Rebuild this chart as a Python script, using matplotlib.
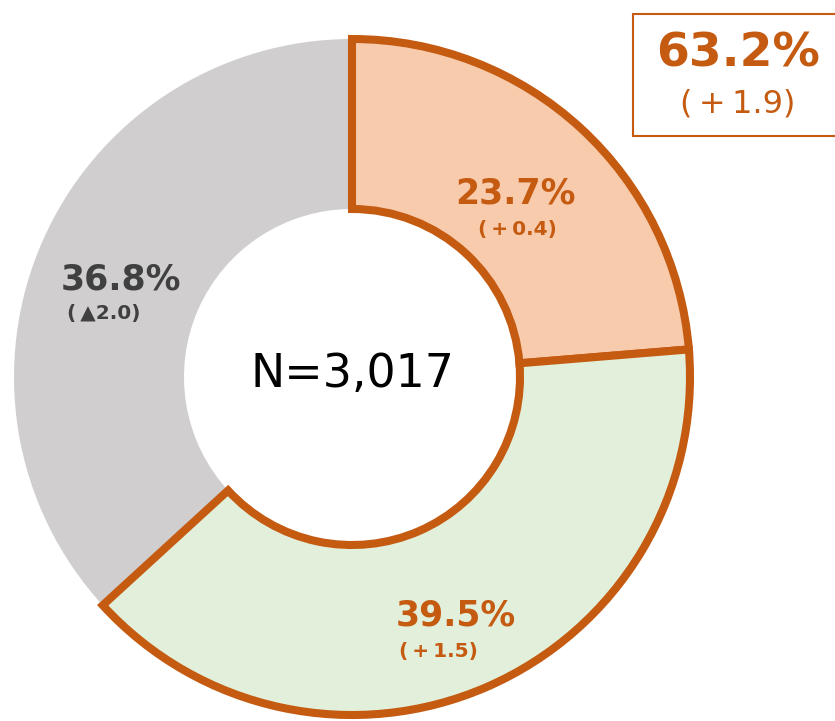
import matplotlib.pyplot as plt
from matplotlib.patches import Rectangle

# data
shares = [23.7, 39.5, 36.8]
changes = ["(\u2009+\u20090.4)", "(\u2009+\u20091.5)", "(\u2009▲2.0)"]
colors = ["#F8CBAD", "#E2EFDA", "#D0CECE"]
total_n = "N=3,017"
total_share = "63.2%"
total_change = "(\u2009+\u20091.9)"

orange = "#C55A11"
dark = "#404040"
fam = ["DejaVu Sans", "Noto Sans CJK JP"]

fig = plt.figure(figsize=(8.35, 7.21), dpi=100)
ax = fig.add_axes([0, 0, 1, 1])

# donut, pixel coords (y up)
cx, cy, r_out = 352, 344, 338
wedges, _ = ax.pie(shares, colors=colors, startangle=90, counterclock=False,
                   center=(cx, cy), radius=r_out,
                   wedgeprops=dict(width=r_out - 168, linewidth=5.8, edgecolor=orange))
wedges[2].set_edgecolor("none")
wedges[2].set_zorder(1)
wedges[0].set_zorder(3)
wedges[1].set_zorder(3)

ax.set_xlim(0, 835)
ax.set_ylim(0, 721)
ax.set_aspect("equal")
ax.axis("off")

ax.text(cx, cy + 2, total_n, ha="center", va="center", fontsize=33, color="black", family=fam)

# slice labels
ax.text(516, 721 - 193, f"{shares[0]}%", ha="center", va="center", fontsize=25,
        fontweight="bold", color=orange, family=fam)
ax.text(517, 721 - 230, changes[0], ha="center", va="center", fontsize=14.5,
        fontweight="bold", color=orange, family=fam)
ax.text(456, 721 - 615, f"{shares[1]}%", ha="center", va="center", fontsize=25,
        fontweight="bold", color=orange, family=fam)
ax.text(438, 721 - 651, changes[1], ha="center", va="center", fontsize=14.5,
        fontweight="bold", color=orange, family=fam)
ax.text(121, 721 - 280, f"{shares[2]}%", ha="center", va="center", fontsize=25,
        fontweight="bold", color=dark, family=fam)
ax.text(104, 721 - 314, changes[2], ha="center", va="center", fontsize=14.5,
        fontweight="bold", color=dark, family=fam)

# total box
ax.add_patch(Rectangle((633, 721 - 136), 210, 122, facecolor="white",
                       edgecolor=orange, linewidth=1.5, zorder=4))
ax.text(738, 721 - 54, total_share, ha="center", va="center", fontsize=34,
        fontweight="bold", color=orange, family=fam, zorder=5)
ax.text(738, 721 - 104, total_change, ha="center", va="center", fontsize=23,
        color=orange, family=fam, zorder=5)

fig.savefig("out.png", dpi=100)
